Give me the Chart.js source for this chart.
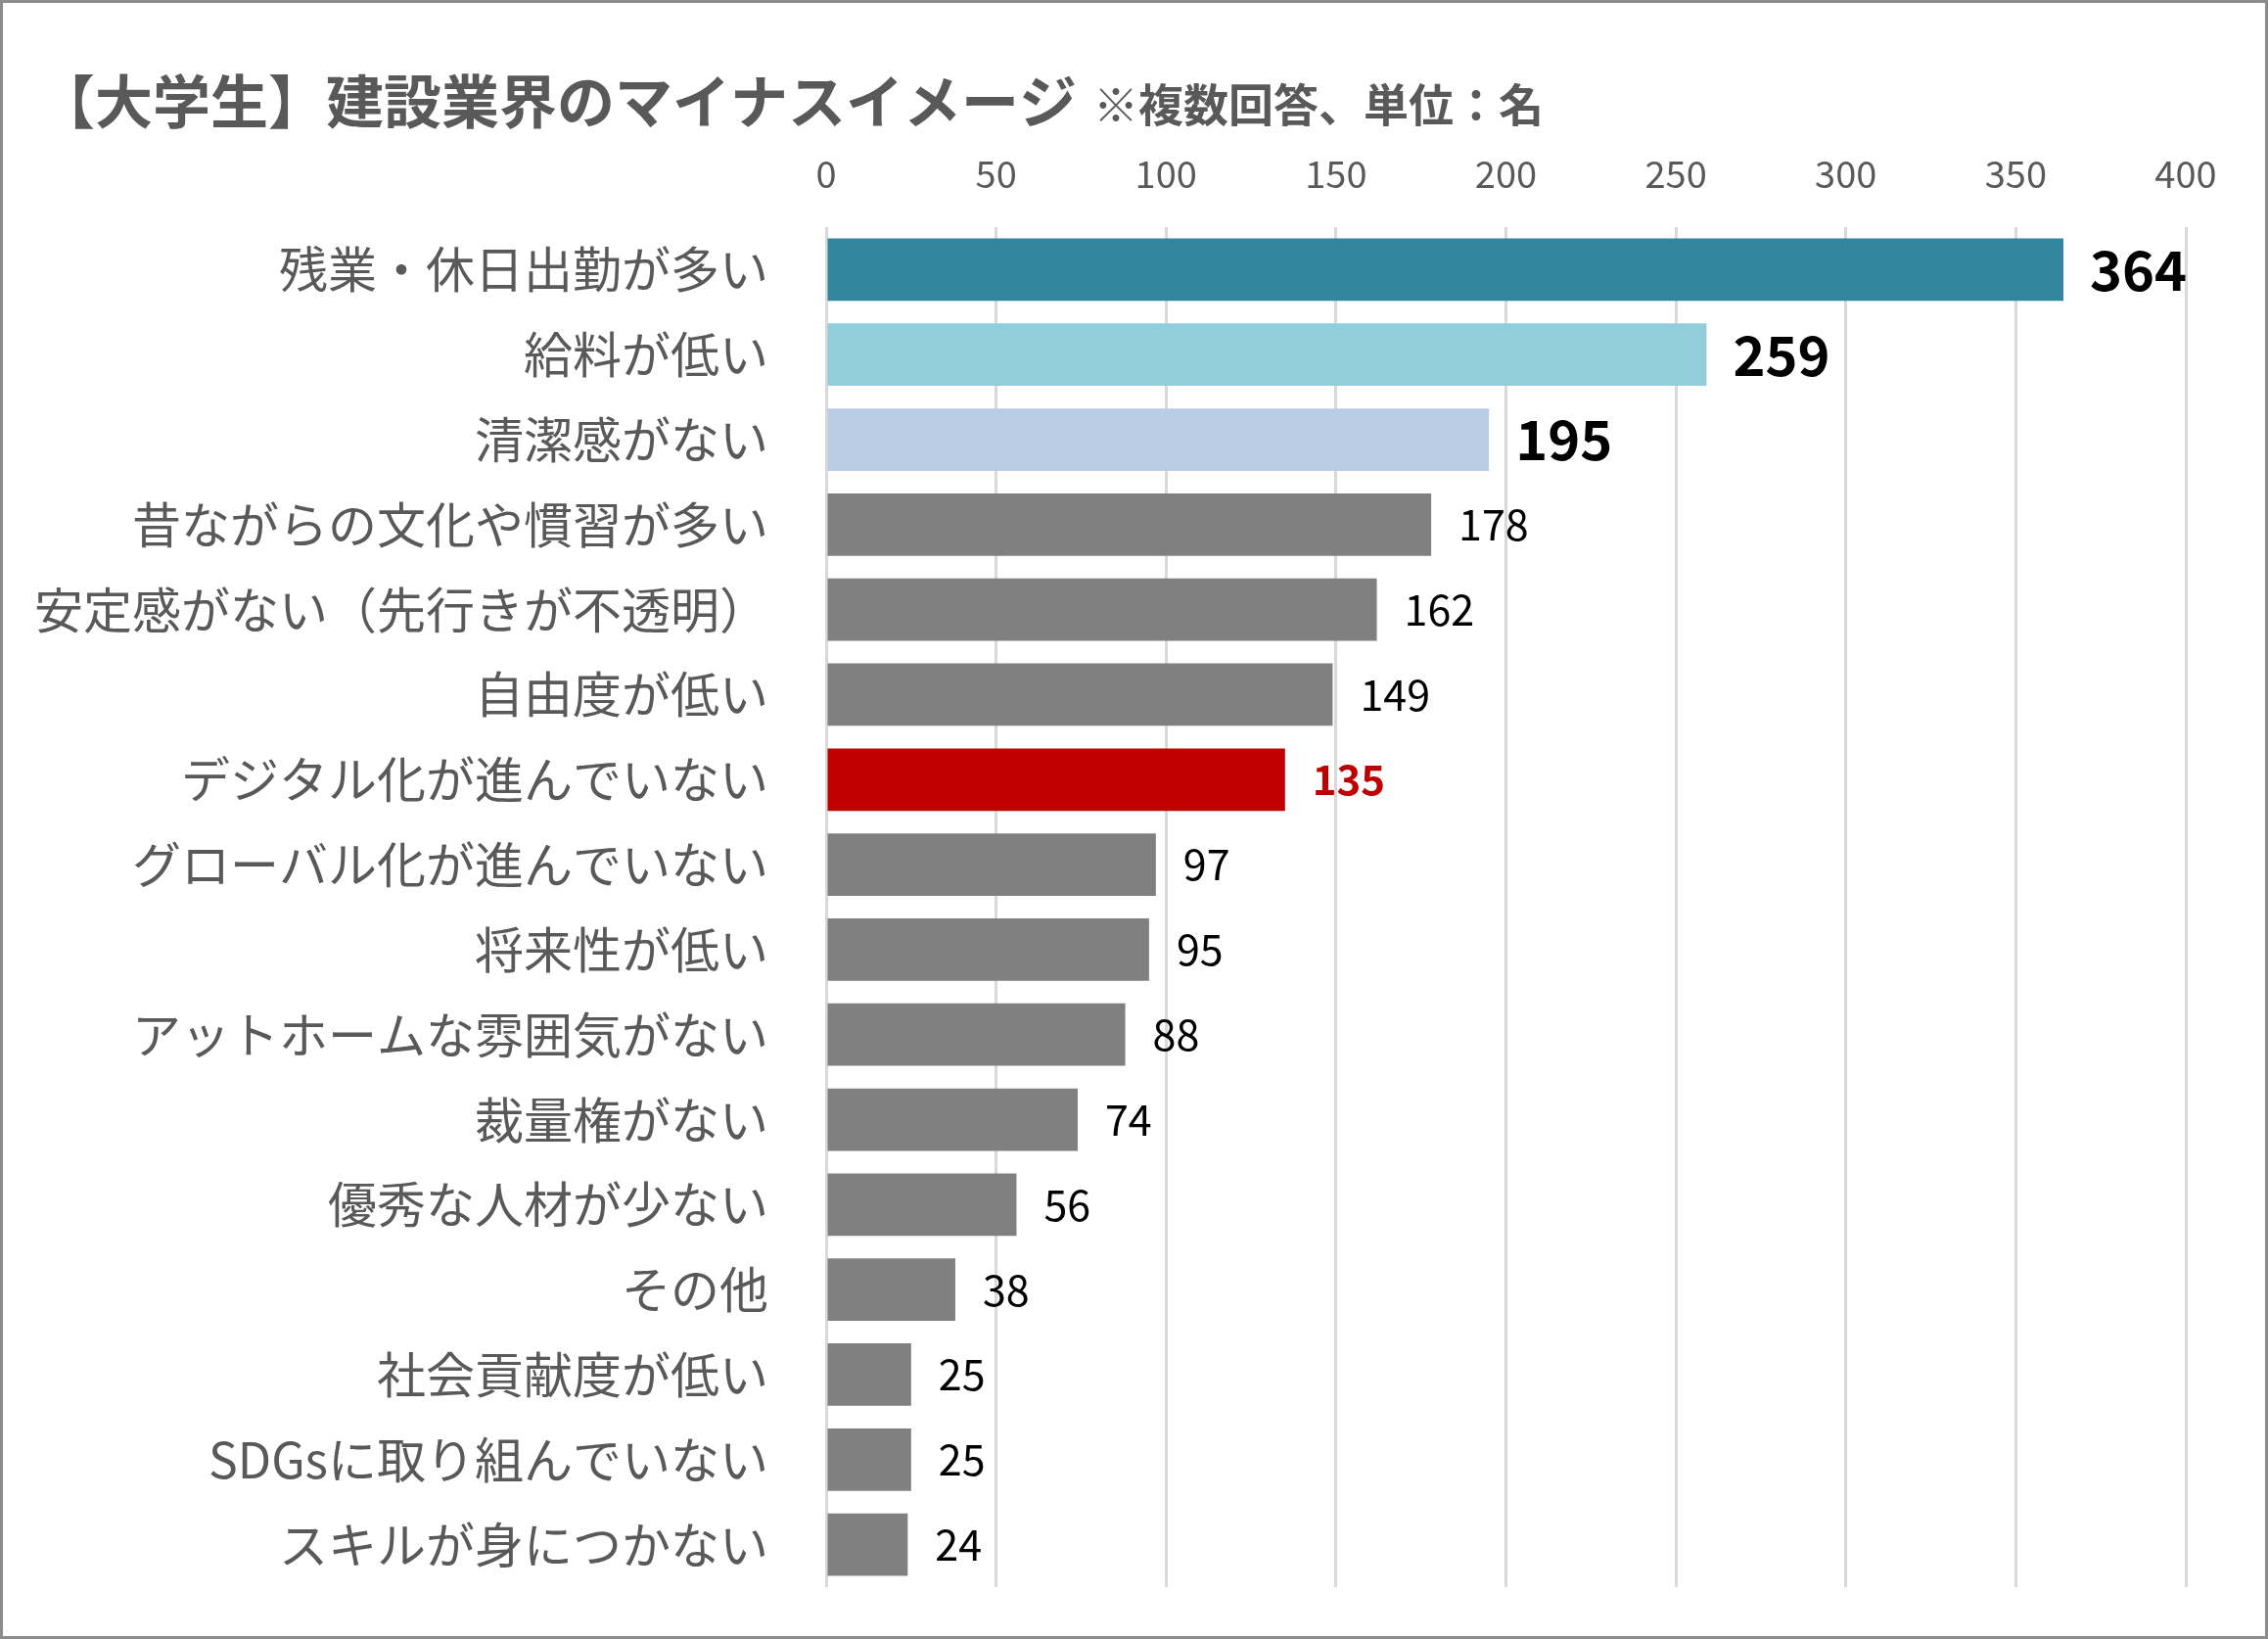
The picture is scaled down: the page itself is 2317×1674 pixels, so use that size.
<!DOCTYPE html>
<html>
<head>
<meta charset="utf-8">
<script src="https://cdn.jsdelivr.net/npm/chart.js@4.4.1/dist/chart.umd.min.js"></script>
<style>
html,body{margin:0;padding:0;background:#fff;}
canvas{display:block;}
</style>
</head>
<body>
<canvas id="c" width="2317" height="1674"></canvas>
<script>
const categories = ['残業・休日出勤が多い','給料が低い','清潔感がない','昔ながらの文化や慣習が多い','安定感がない（先行きが不透明）','自由度が低い','デジタル化が進んでいない','グローバル化が進んでいない','将来性が低い','アットホームな雰囲気がない','裁量権がない','優秀な人材が少ない','その他','社会貢献度が低い','SDGsに取り組んでいない','スキルが身につかない'];
const values = [364,259,195,178,162,149,135,97,95,88,74,56,38,25,25,24];
const barColors = ['#31859C','#92CDDC','#B9CDE5','#808080','#808080','#808080','#C00000','#808080','#808080','#808080','#808080','#808080','#808080','#808080','#808080','#808080'];
const xTicks = [0,50,100,150,200,250,300,350,400];
const titleText = '【大学生】建設業界のマイナスイメージ';
const subtitleText = '※複数回答、単位：名';

const FONT = '"Noto Sans CJK JP", "Noto Sans", sans-serif';

const bgPlugin = {
  id: 'bg',
  beforeDraw(chart) {
    const ctx = chart.ctx;
    ctx.save();
    ctx.fillStyle = '#fff';
    ctx.fillRect(0, 0, chart.width, chart.height);
    ctx.restore();
  },
  afterDraw(chart) {
    const ctx = chart.ctx;
    ctx.save();
    ctx.strokeStyle = '#8C8C8C';
    ctx.lineWidth = 3;
    ctx.strokeRect(1.5, 1.5, chart.width - 3, chart.height - 3);
    ctx.fillStyle = '#595959';
    ctx.textBaseline = 'middle';
    ctx.textAlign = 'left';
    ctx.font = 'bold 59px ' + FONT;
    ctx.fillText(titleText, 38, 104);
    ctx.font = 'bold 46px ' + FONT;
    ctx.fillText(subtitleText, 1117, 107);
    ctx.restore();
  }
};

const labelPlugin = {
  id: 'vlabels',
  afterDatasetsDraw(chart) {
    const ctx = chart.ctx;
    const meta = chart.getDatasetMeta(0);
    ctx.save();
    ctx.textAlign = 'left';
    ctx.textBaseline = 'middle';
    meta.data.forEach((el, i) => {
      let font = '43px ' + FONT, color = '#000', off = 28;
      if (i < 3) { font = 'bold 56px ' + FONT; off = 27; }
      else if (i === 6) { font = 'bold 42px ' + FONT; color = '#C00000'; }
      ctx.font = font;
      ctx.fillStyle = color;
      ctx.fillText(String(values[i]), el.x + off, el.y);
    });
    ctx.restore();
  }
};

new Chart(document.getElementById('c'), {
  type: 'bar',
  data: {
    labels: categories,
    datasets: [{
      data: values,
      backgroundColor: barColors,
      borderWidth: 0,
      barPercentage: 0.735,
      categoryPercentage: 1.0
    }]
  },
  options: {
    indexAxis: 'y',
    responsive: false,
    animation: false,
    devicePixelRatio: 1,
    layout: { padding: { left: 0, right: 84, top: 0, bottom: 53 } },
    plugins: { legend: { display: false }, tooltip: { enabled: false }, title: { display: false } },
    scales: {
      x: {
        position: 'top',
        min: 0, max: 400,
        afterBuildTicks(scale) { scale.ticks = xTicks.map(v => ({ value: v })); },
        afterFit(scale) { scale.height = 232; scale.paddingLeft = 0; scale.paddingRight = 0; },
        ticks: { color: '#595959', font: { family: FONT, size: 38 }, padding: 32, maxRotation: 0 },
        grid: { color: '#D9D9D9', lineWidth: 3, drawTicks: false },
        border: { display: false }
      },
      y: {
        afterFit(scale) { scale.width = 844; scale.paddingTop = 0; scale.paddingBottom = 0; },
        ticks: { color: '#595959', font: { family: FONT, size: 50 }, padding: 59, autoSkip: false },
        grid: { display: false, drawTicks: false },
        border: { display: false }
      }
    }
  },
  plugins: [bgPlugin, labelPlugin]
});
</script>
</body>
</html>
